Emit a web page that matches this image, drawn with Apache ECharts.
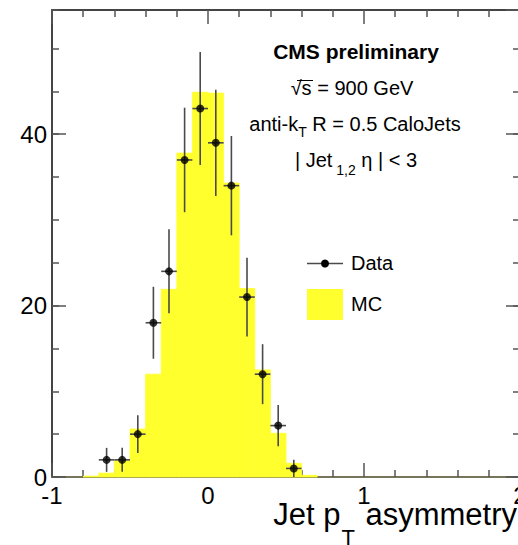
<!DOCTYPE html>
<html>
<head>
<meta charset="utf-8">
<script src="https://cdn.jsdelivr.net/npm/echarts@6/dist/echarts.min.js"></script>
<style>
  html, body { margin: 0; padding: 0; background: #ffffff; }
  #chart { width: 518px; height: 545px; }
</style>
</head>
<body>
<div id="chart"></div>
<script>
// Dijet pT asymmetry, 0.1-wide bins
const dataBinCenters = [-0.65, -0.55, -0.45, -0.35, -0.25, -0.15, -0.05, 0.05, 0.15, 0.25, 0.35, 0.45, 0.55];
const dataCounts     = [2, 2, 5, 18, 24, 37, 43, 39, 34, 21, 12, 6, 1];
const dataErrors     = [1.4, 1.4, 2.2, 4.2, 4.9, 6.1, 6.6, 6.2, 5.8, 4.6, 3.5, 2.4, 1.0];

const mcBinLowEdges  = [-0.8, -0.7, -0.6, -0.5, -0.4, -0.3, -0.2, -0.1, 0.0, 0.1, 0.2, 0.3, 0.4, 0.5, 0.6];
const mcCounts       = [0.1, 0.45, 1.9, 5.6, 12.0, 21.9, 37.8, 44.9, 44.8, 34.3, 22.0, 12.5, 5.1, 1.6, 0.2];

const BIN_WIDTH = 0.1;
const X_RANGE = [-1, 2];
const Y_RANGE = [0, 54.5];

const FONT = "'Liberation Sans', Arial, Helvetica, sans-serif";
const YELLOW = '#ffff2e';
const FRAME = '#444444';
const TICK = '#555555';

const mcTable = mcBinLowEdges.map((lo, i) => [lo, lo + BIN_WIDTH, mcCounts[i]]);
const errTable = dataBinCenters.map((c, i) => [c, dataCounts[i], dataErrors[i], BIN_WIDTH / 2]);
const pointTable = dataBinCenters.map((c, i) => [c, dataCounts[i]]);

const chart = echarts.init(document.getElementById('chart'), null, { renderer: 'svg' });

const tickStyle = { color: TICK, width: 1.5 };

function xAxisDef(position, withLabels) {
  return {
    type: 'value', position: position, min: X_RANGE[0], max: X_RANGE[1], interval: 1,
    axisLine: { show: true, onZero: false,
      lineStyle: { color: position === 'bottom' ? '#76765a' : FRAME, width: 2 } },
    axisTick: { show: true, inside: true, length: 14, lineStyle: tickStyle },
    minorTick: { show: true, splitNumber: 5, length: 7, lineStyle: tickStyle },
    splitLine: { show: false },
    axisLabel: withLabels
      ? { show: true, fontSize: 24, color: '#000', fontFamily: FONT, margin: 6 }
      : { show: false }
  };
}

function yAxisDef(position, interval, tickLen, withLabels, showLine) {
  return {
    type: 'value', position: position, min: Y_RANGE[0], max: Y_RANGE[1], interval: interval,
    axisLine: { show: showLine, onZero: false, lineStyle: { color: FRAME, width: 2 } },
    axisTick: { show: true, inside: true, length: tickLen, lineStyle: tickStyle },
    splitLine: { show: false },
    axisLabel: withLabels
      ? { show: true, fontSize: 24, color: '#000', fontFamily: FONT, margin: 5, showMaxLabel: false }
      : { show: false }
  };
}

const xBottom = xAxisDef('bottom', true);
xBottom.name = '{m|Jet p}{s|T}{m| asymmetry}';
xBottom.nameLocation = 'end';
xBottom.nameGap = -3;
xBottom.nameMoveOverlap = false;
xBottom.nameTextStyle = {
  align: 'right', verticalAlign: 'top', padding: [4, 0, 0, 0],
  rich: {
    m: { fontSize: 31, fontFamily: FONT, color: '#000', lineHeight: 67, verticalAlign: 'middle' },
    s: { fontSize: 22, fontFamily: FONT, color: '#000', lineHeight: 22, verticalAlign: 'bottom', padding: [0, 2, 0, 1] }
  }
};

const option = {
  backgroundColor: '#ffffff',
  animation: false,
  grid: { left: 52, top: 10, width: 468, height: 467, containLabel: false, outerBoundsMode: 'none' },
  xAxis: [xBottom, xAxisDef('top', false)],
  yAxis: [
    yAxisDef('left', 20, 14, true, true),
    yAxisDef('left', 5, 7, false, false),
    yAxisDef('right', 20, 14, false, true),
    yAxisDef('right', 5, 7, false, false)
  ],
  series: [
    {
      name: 'MC', type: 'custom', data: mcTable, encode: { x: [0, 1], y: 2 },
      renderItem: function (params, api) {
        const p0 = api.coord([api.value(0), 0]);
        const p1 = api.coord([api.value(1), api.value(2)]);
        return { type: 'rect',
          shape: { x: p0[0], y: p1[1], width: p1[0] - p0[0], height: p0[1] - p1[1] },
          style: { fill: YELLOW, stroke: YELLOW, lineWidth: 0.8 } };
      },
      z: 1
    },
    {
      name: 'Data errors', type: 'custom', data: errTable, encode: { x: 0, y: 1 },
      renderItem: function (params, api) {
        const c = api.value(0), v = api.value(1), e = api.value(2), h = api.value(3);
        const top = api.coord([c, v + e]), bot = api.coord([c, v - e]);
        const l = api.coord([c - h, v]), r = api.coord([c + h, v]);
        const st = { stroke: '#4a4a4a', lineWidth: 1.6 };
        return { type: 'group', children: [
          { type: 'line', shape: { x1: top[0], y1: top[1], x2: bot[0], y2: bot[1] }, style: st },
          { type: 'line', shape: { x1: l[0], y1: l[1], x2: r[0], y2: r[1] }, style: st }
        ] };
      },
      z: 2
    },
    {
      name: 'Data', type: 'scatter', data: pointTable, symbol: 'circle', symbolSize: 8,
      itemStyle: { color: '#000000' }, z: 3
    }
  ],
  graphic: [
    { type: 'text', x: 356, y: 51, style: { text: 'CMS preliminary', fontSize: 21, fontWeight: 'bold',
      fontFamily: FONT, fill: '#000', align: 'center', verticalAlign: 'middle' } },
    { type: 'text', x: 352, y: 88, style: { text: '\u221As = 900 GeV', fontSize: 20,
      fontFamily: FONT, fill: '#000', align: 'center', verticalAlign: 'middle' } },
    { type: 'line', shape: { x1: 297, y1: 80.5, x2: 313, y2: 80.5 }, style: { stroke: '#000', lineWidth: 1 } },
    { type: 'text', x: 355, y: 124, style: {
      text: '{m|anti-k}{s|T}{m| R = 0.5 CaloJets}',
      align: 'center', verticalAlign: 'middle',
      rich: {
        m: { fontSize: 20, fontFamily: FONT, fill: '#000', lineHeight: 30, verticalAlign: 'middle' },
        s: { fontSize: 14, fontFamily: FONT, fill: '#000', lineHeight: 16, verticalAlign: 'bottom' }
      } } },
    { type: 'text', x: 356, y: 160, style: {
      text: '{m|| Jet}{s| 1,2}{m| \u03B7 | < 3}',
      align: 'center', verticalAlign: 'middle',
      rich: {
        m: { fontSize: 20, fontFamily: FONT, fill: '#000', lineHeight: 34, verticalAlign: 'middle' },
        s: { fontSize: 14, fontFamily: FONT, fill: '#000', lineHeight: 16, verticalAlign: 'bottom' }
      } } },
    // legend
    { type: 'line', shape: { x1: 307, y1: 263.5, x2: 343, y2: 263.5 }, style: { stroke: '#4a4a4a', lineWidth: 1.6 } },
    { type: 'circle', shape: { cx: 325, cy: 263.5, r: 4 }, style: { fill: '#000' } },
    { type: 'text', x: 351, y: 263, style: { text: 'Data', fontSize: 20, fontFamily: FONT, fill: '#000',
      align: 'left', verticalAlign: 'middle' } },
    { type: 'rect', shape: { x: 307, y: 289, width: 36, height: 31 }, style: { fill: YELLOW } },
    { type: 'text', x: 351, y: 304, style: { text: 'MC', fontSize: 20, fontFamily: FONT, fill: '#000',
      align: 'left', verticalAlign: 'middle' } }
  ]
};

chart.setOption(option);
</script>
</body>
</html>
